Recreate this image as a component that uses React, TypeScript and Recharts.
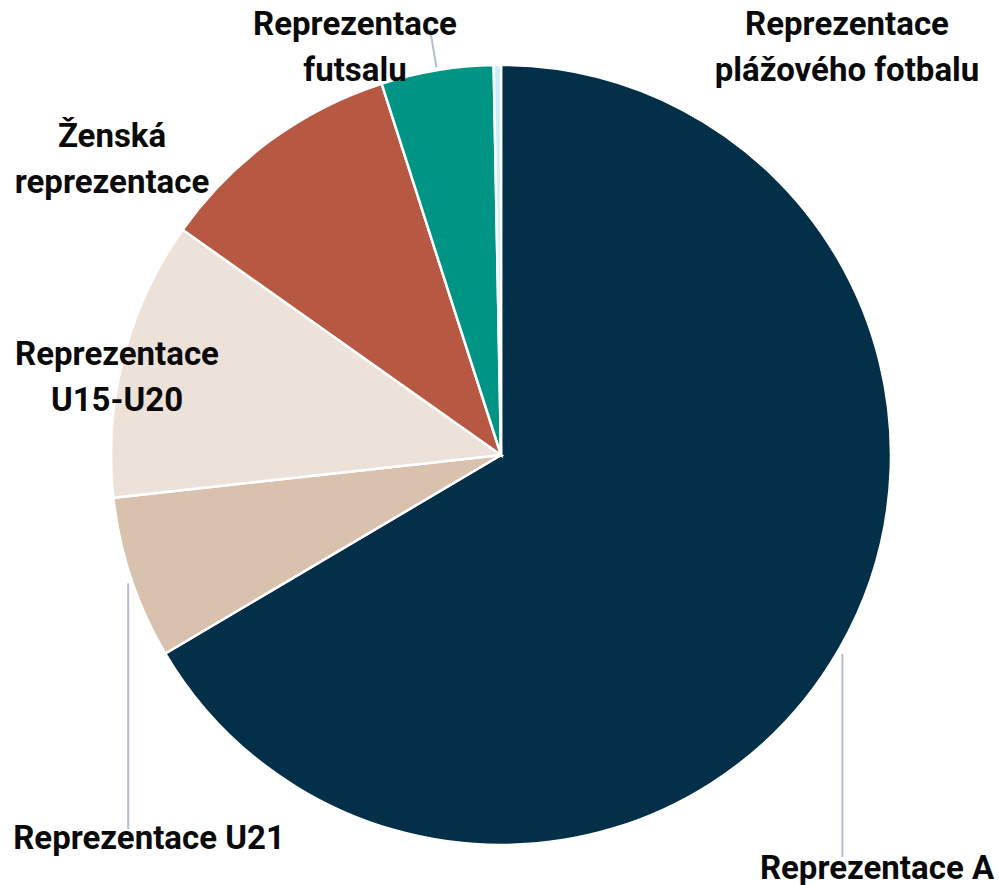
import React from 'react';
import { PieChart, Pie, Cell } from 'recharts';

const categories = [
  'Reprezentace A',
  'Reprezentace U21',
  'Reprezentace U15-U20',
  'Ženská reprezentace',
  'Reprezentace futsalu',
  'Reprezentace plážového fotbalu',
];
const shares = [66.5, 6.75, 11.55, 10.25, 4.65, 0.3];
const labelTexts = [
  ['Reprezentace A'],
  ['Reprezentace U21'],
  ['Reprezentace', 'U15-U20'],
  ['Ženská', 'reprezentace'],
  ['Reprezentace', 'futsalu'],
  ['Reprezentace', 'plážového fotbalu'],
];

const colors = ['#032f48', '#d8c2ae', '#ede2d9', '#b65842', '#009485', '#c9eef8'];

// where each label sits, relative to the pie centre (first baseline)
const placement = [
  { dx: 376, dy: 424, leader: 'down', end: 402 },
  { dx: -352, dy: 394, leader: 'down', end: 374 },
  { dx: -384, dy: -90, leader: 'none', end: 0 },
  { dx: -389, dy: -308, leader: 'none', end: 0 },
  { dx: -146, dy: -420, leader: 'radial', end: 42 },
  { dx: 346, dy: -420, leader: 'none', end: 0 },
];

const data = categories.map((name, i) => ({ name, value: shares[i] }));

const RAD = Math.PI / 180;
const FONT = 'Roboto, sans-serif';

const renderLabel = (props: any) => {
  const { cx, cy, midAngle, outerRadius } = props;
  const i = categories.indexOf(props.name ?? props.payload?.name);
  const p = placement[i];
  const cos = Math.cos(-midAngle * RAD);
  const sin = Math.sin(-midAngle * RAD);
  const sx = cx + (outerRadius + 3) * cos;
  const sy = cy + (outerRadius + 3) * sin;
  let line = null;
  if (p.leader === 'down') {
    line = <line x1={sx} y1={sy + 4} x2={sx} y2={cy + p.end} stroke="#b5bdd3" strokeWidth={2} />;
  } else if (p.leader === 'radial') {
    line = (
      <line
        x1={sx}
        y1={sy}
        x2={cx + (outerRadius + p.end) * cos}
        y2={cy + (outerRadius + p.end) * sin}
        stroke="#b5bdd3"
        strokeWidth={2}
      />
    );
  }
  return (
    <g key={`lbl-${i}`}>
      {line}
      <text
        x={cx + p.dx}
        y={cy + p.dy}
        textAnchor="middle"
        fontFamily={FONT}
        fontWeight={700}
        fontSize={33}
        fill="#0a0a0a"
      >
        {labelTexts[i].map((t, k) => (
          <tspan key={k} x={cx + p.dx} dy={k === 0 ? 0 : 46}>
            {t}
          </tspan>
        ))}
      </text>
    </g>
  );
};

export default function App() {
  return (
    <div style={{ position: 'absolute', left: 0, top: 0, background: '#fff' }}>
      <PieChart width={999} height={885} margin={{ top: 0, right: 0, bottom: 0, left: 0 }}>
        <Pie
          data={data}
          dataKey="value"
          nameKey="name"
          cx={501}
          cy={455}
          outerRadius={390}
          startAngle={90}
          endAngle={-270}
          stroke="#ffffff"
          strokeWidth={2.5}
          label={renderLabel}
          labelLine={false}
          isAnimationActive={false}
        >
          {data.map((d, i) => (
            <Cell key={d.name} fill={colors[i]} />
          ))}
        </Pie>
      </PieChart>
    </div>
  );
}
